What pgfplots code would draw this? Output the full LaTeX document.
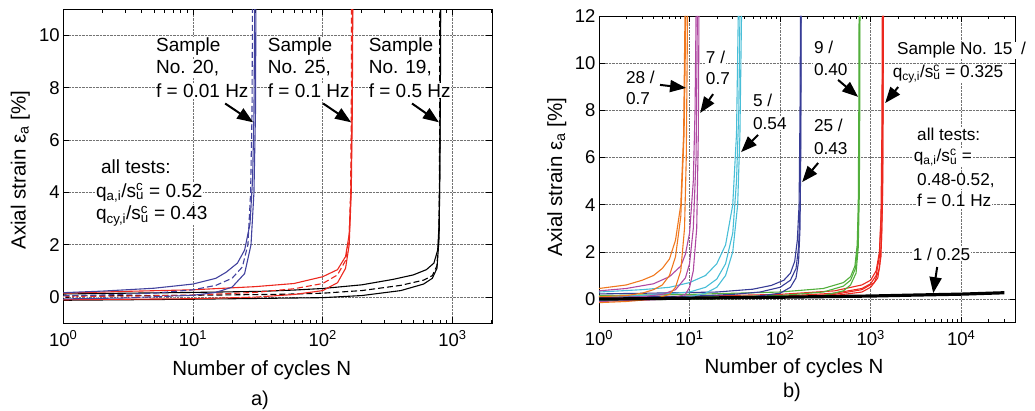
\documentclass[border=0pt]{standalone}
\usepackage{fontspec}
\setmainfont{Liberation Sans}
\usepackage{pgfplots}
\pgfplotsset{compat=1.18}
\usetikzlibrary{arrows.meta}

\definecolor{lblue}{RGB}{66,66,158}
\definecolor{lred}{RGB}{236,40,30}
\definecolor{corange}{RGB}{240,120,30}
\definecolor{cmag}{RGB}{175,72,162}
\definecolor{ccyan}{RGB}{72,190,215}
\definecolor{cblue}{RGB}{55,60,150}
\definecolor{cgreen}{RGB}{82,175,60}

\newcommand{\qa}{q\smash{\textsubscript{a,i}}/s\rlap{\smash{\textsuperscript{c}}}\smash{\textsubscript{u}}}
\newcommand{\qcy}{q\smash{\textsubscript{cy,i}}/s\rlap{\smash{\textsuperscript{c}}}\smash{\textsubscript{u}}}

\pgfplotsset{
  /pgfplots/mypanel/.style={
    scale only axis, ymin=-1,
    grid=major,
    grid style={densely dotted, black!55, line width=0.6pt},
    axis line style={line width=0.8pt},
    every tick/.style={black, line width=0.6pt},
    major tick length=6pt, minor tick length=3.5pt,
    tick label style={font=\fontsize{18.5}{21}\selectfont},
    xticklabel style={yshift=-4pt},
    label style={font=\fontsize{20.5}{24}\selectfont},
    /pgf/number format/assume math mode=true,
    xlabel={Number of cycles N},
    ylabel={Axial strain ε\textsubscript{a} [\%]},
  },
}
\tikzset{
  annL/.style={font=\fontsize{19}{23}\selectfont, fill=white, inner sep=0.8pt, anchor=base west},
  annR/.style={font=\fontsize{17.2}{21}\selectfont, fill=white, inner sep=0.8pt, anchor=base west},
  arr/.style={-{Triangle[length=16pt,width=12pt]}, line width=2pt, black},
}

\begin{document}
\begin{tikzpicture}[x=1pt,y=1pt]
% ---------------- panel a ----------------
\begin{semilogxaxis}[mypanel,
  at={(63.3pt,87.7pt)}, anchor=south west,
  width=429pt, height=314pt,
  xmin=1, xmax=2030, ymax=11,
  xtick={1,10,100,1000},
  xticklabels={10\textsuperscript{0},10\textsuperscript{1},10\textsuperscript{2},10\textsuperscript{3}},
  minor xtick={2,3,4,5,6,7,8,9,20,30,40,50,60,70,80,90,200,300,400,500,600,700,800,900,2000},
  ytick={0,2,4,6,8,10},
  xlabel style={at={(axis description cs:0.4625,-0.1487)}, anchor=center},
  ylabel style={at={(axis description cs:-0.1002,0.488)}, anchor=center},
]
% black (Sample 19)
\addplot[black, line width=1.1pt] coordinates {(1,0.12)(3,0.15)(10,0.18)(33,0.22)(60,0.27)(100,0.33)(200,0.47)(350,0.68)(500,0.85)(630,1.05)(720,1.3)(770,1.8)(790,2.8)(800,5)(806,8)(810,12)};
\addplot[black, line width=1.1pt, dash pattern=on 6pt off 3pt] coordinates {(1,0.04)(10,0.07)(50,0.11)(100,0.15)(200,0.25)(400,0.45)(600,0.65)(700,0.82)(760,1.2)(785,2.3)(795,4.5)(800,12)};
\addplot[black, line width=1.1pt] coordinates {(1,-0.12)(10,-0.08)(100,-0.02)(200,0.06)(400,0.25)(600,0.5)(700,0.72)(760,1.1)(790,2.3)(800,5)(808,8)(812,12)};
% red (Sample 25)
\addplot[lred, line width=1.1pt] coordinates {(1,0.15)(3,0.22)(10,0.28)(30,0.4)(60,0.52)(100,0.78)(130,1.05)(150,1.55)(160,2.4)(165,4)(168,7)(170,12)};
\addplot[lred, line width=1.1pt, dash pattern=on 6pt off 3pt] coordinates {(1,0.02)(5,0.05)(10,0.08)(30,0.18)(60,0.32)(100,0.52)(130,0.85)(150,1.4)(160,2.3)(164,4)(166,7)(167,12)};
\addplot[lred, line width=1.1pt] coordinates {(1,-0.1)(10,-0.06)(30,0.0)(60,0.1)(100,0.25)(130,0.55)(150,1.1)(160,2)(166,4)(169,7)(171,12)};
% blue (Sample 20)
\addplot[lblue, line width=1.1pt] coordinates {(1,0.17)(2,0.23)(5,0.34)(10,0.5)(15,0.72)(18,0.95)(22,1.3)(25,1.8)(27.5,2.8)(28.8,4.5)(29.5,7)(30,12)};
\addplot[lblue, line width=1.1pt, dash pattern=on 6pt off 3pt] coordinates {(1,0.05)(2,0.08)(5,0.15)(10,0.28)(15,0.45)(20,0.72)(24,1.15)(26.5,2)(27.8,4)(28.5,7)(28.8,12)};
\addplot[lblue, line width=1.1pt] coordinates {(1,-0.07)(3,-0.03)(10,0.07)(15,0.18)(20,0.38)(25,0.9)(28,2)(29.5,4)(30.3,7)(30.6,12)};
% white dotted overlay near zero
\addplot[white, line width=1.3pt, dash pattern=on 2pt off 9pt] coordinates {(1,0.0)(35,0.02)};
% annotations
\node[annL] at (axis cs:5.1,9.40) {Sample};
\node[annL] at (axis cs:5.1,8.54) {No. 20,};
\node[annL] at (axis cs:5.1,7.64) {f = 0.01 Hz};
\node[annL] at (axis cs:37.1,9.40) {Sample};
\node[annL] at (axis cs:37.1,8.54) {No. 25,};
\node[annL] at (axis cs:37.1,7.64) {f = 0.1 Hz};
\node[annL] at (axis cs:222.7,9.40) {Sample};
\node[annL] at (axis cs:222.7,8.54) {No. 19,};
\node[annL] at (axis cs:222.7,7.64) {f = 0.5 Hz};
\draw[arr] (axis cs:17.7,7.40) -- (axis cs:29.1,6.68);
\draw[arr] (axis cs:100.7,7.40) -- (axis cs:165.6,6.68);
\draw[arr] (axis cs:488,7.40) -- (axis cs:788,6.68);
\node[annL] at (axis cs:1.92,4.72) {all tests:};
\node[annL] at (axis cs:1.76,3.82) {\qa{} = 0.52};
\node[annL] at (axis cs:1.76,2.97) {\qcy{} = 0.43};
\end{semilogxaxis}
% ---------------- panel b ----------------
\begin{semilogxaxis}[mypanel,
  at={(599pt,88.3pt)}, anchor=south west,
  width=416.7pt, height=306.7pt,
  xmin=1, xmax=40000, ymax=12,
  clip=false,
  xtick={1,10,100,1000,10000},
  xticklabels={10\textsuperscript{0},10\textsuperscript{1},10\textsuperscript{2},10\textsuperscript{3},10\textsuperscript{4}},
  minor xtick={2,3,4,5,6,7,8,9,20,30,40,50,60,70,80,90,200,300,400,500,600,700,800,900,2000,3000,4000,5000,6000,7000,8000,9000,20000,30000},
  ytick={0,2,4,6,8,10,12},
  xlabel style={at={(axis description cs:0.468,-0.1477)}, anchor=center},
  ylabel style={at={(axis description cs:-0.1015,0.475)}, anchor=center},
]
% red (15 / 0.325)
\addplot[lred, line width=1.1pt] coordinates {(1,0.1)(10,0.12)(100,0.2)(400,0.35)(800,0.6)(1000,0.8)(1150,1.2)(1250,2)(1300,3.5)(1330,7)(1345,12)};
\addplot[lred, line width=1.1pt] coordinates {(1,0.05)(10,0.06)(100,0.12)(400,0.25)(800,0.45)(1000,0.65)(1150,1.0)(1250,1.8)(1320,4)(1350,8)(1360,12)};
\addplot[lred, line width=1.1pt] coordinates {(1,0.0)(100,0.08)(400,0.2)(800,0.4)(1100,0.7)(1250,1.3)(1320,2.5)(1360,5)(1372,9)(1378,12)};
\addplot[lred, line width=1.1pt] coordinates {(1,-0.02)(100,0.05)(400,0.15)(800,0.3)(1000,0.5)(1200,0.9)(1300,1.8)(1350,4)(1370,8)(1385,12)};
% green (9 / 0.40)
\addplot[cgreen, line width=1.1pt] coordinates {(1,0.15)(10,0.2)(100,0.3)(300,0.45)(500,0.7)(600,0.95)(670,1.4)(710,2.3)(730,4)(740,8)(745,12)};
\addplot[cgreen, line width=1.1pt] coordinates {(1,0.05)(10,0.08)(100,0.15)(300,0.3)(500,0.55)(600,0.8)(680,1.3)(720,2.3)(740,4.5)(750,8)(755,12)};
\addplot[cgreen, line width=1.1pt] coordinates {(1,-0.05)(10,0.0)(100,0.05)(300,0.15)(500,0.35)(600,0.6)(690,1.1)(730,2.2)(750,4.5)(758,8)(762,12)};
% blue (25 / 0.43)
\addplot[cblue, line width=1.1pt] coordinates {(1,0.22)(5,0.26)(20,0.3)(50,0.42)(80,0.58)(110,0.8)(130,1.1)(145,1.6)(155,2.5)(162,4)(166,8)(168,12)};
\addplot[cblue, line width=1.1pt] coordinates {(1,0.1)(10,0.12)(30,0.2)(60,0.3)(100,0.5)(130,0.8)(150,1.3)(160,2.2)(166,4)(169,8)(170,12)};
\addplot[cblue, line width=1.1pt] coordinates {(1,0.0)(10,0.03)(50,0.1)(100,0.25)(130,0.5)(150,0.9)(160,1.6)(166,3)(169,6)(171,12)};
% cyan (5 / 0.54)
\addplot[ccyan, line width=1.1pt] coordinates {(1,0.3)(3,0.4)(6,0.5)(10,0.7)(15,1.0)(20,1.5)(25,2.3)(30,4)(33,7)(34.5,12)};
\addplot[ccyan, line width=1.1pt] coordinates {(1,0.1)(3,0.15)(10,0.3)(15,0.5)(20,0.85)(25,1.5)(30,2.8)(33,5)(35,8)(36,12)};
\addplot[ccyan, line width=1.1pt] coordinates {(1,-0.05)(5,0.0)(10,0.1)(15,0.25)(20,0.5)(25,1.0)(30,2.0)(34,4)(36,7)(37.5,12)};
% magenta (7 / 0.7)
\addplot[cmag, line width=1.1pt] coordinates {(1,0.35)(2,0.45)(4,0.65)(6,0.95)(8,1.4)(9,1.9)(10,2.8)(11,5)(11.5,8)(11.8,12)};
\addplot[cmag, line width=1.1pt] coordinates {(1,0.05)(3,0.1)(5,0.2)(7,0.4)(9,0.9)(10,1.5)(11,3)(11.8,6)(12.2,12)};
\addplot[cmag, line width=1.1pt] coordinates {(1,-0.1)(3,-0.05)(6,0.0)(9,0.2)(10,0.5)(11,1.2)(12,3)(12.5,7)(12.7,12)};
% orange (28 / 0.7)
\addplot[corange, line width=1.1pt] coordinates {(1,0.45)(2,0.6)(3,0.8)(4,1.0)(5,1.3)(6,1.7)(7,2.5)(8,4)(8.6,7)(8.9,12)};
\addplot[corange, line width=1.1pt] coordinates {(1,0.1)(2,0.15)(3,0.25)(4,0.4)(5,0.6)(6,1.0)(7,1.8)(8,3.5)(8.7,7)(9.1,12)};
\addplot[corange, line width=1.1pt] coordinates {(1,-0.15)(2,-0.1)(4,0.0)(6,0.2)(7,0.5)(8,1.2)(8.8,3)(9.2,6)(9.5,12)};
% black (1 / 0.25)
\addplot[black, line width=3.2pt] coordinates {(1,0.0)(10,0.04)(100,0.08)(1000,0.13)(3000,0.17)(10000,0.21)(30000,0.27)};
% annotations
\node[annR] at (axis cs:1.94,9.15) {28 /};
\node[annR] at (axis cs:1.94,8.23) {0.7};
\node[annR] at (axis cs:14.8,9.99) {7 /};
\node[annR] at (axis cs:14.8,9.08) {0.7};
\node[annR] at (axis cs:49.1,8.16) {5 /};
\node[annR] at (axis cs:49.1,7.21) {0.54};
\node[annR] at (axis cs:231,7.10) {25 /};
\node[annR] at (axis cs:231,6.15) {0.43};
\node[annR] at (axis cs:231,10.42) {9 /};
\node[annR] at (axis cs:231,9.46) {0.40};
\node[annR] at (axis cs:1914,10.35) {Sample No. 15\hspace{8.5pt}/};
\node[annR] at (axis cs:1714,9.40) {\qcy{} = 0.325};
\node[annR] at (axis cs:3184,6.74) {all tests:};
\node[annR] at (axis cs:2925,5.82) {\qa{} =};
\node[annR] at (axis cs:3184,4.81) {0.48-0.52,};
\node[annR] at (axis cs:3184,3.91) {f = 0.1 Hz};
\node[annR] at (axis cs:2851,1.65) {1 / 0.25};
\draw[arr] (axis cs:4.72,9.08) -- (axis cs:9.15,8.95);
\draw[arr] (axis cs:18.2,8.69) -- (axis cs:13.1,7.89);
\draw[arr] (axis cs:57.1,6.96) -- (axis cs:37.1,6.23);
\draw[arr] (axis cs:263,5.77) -- (axis cs:175,4.96);
\draw[arr] (axis cs:437,9.29) -- (axis cs:727,8.57);
\draw[arr] (axis cs:2014,8.99) -- (axis cs:1446,8.31);
\draw[arr] (axis cs:5430,1.36) -- (axis cs:4909,0.25);
\end{semilogxaxis}
\node[font=\fontsize{20}{24}\selectfont] at (260pt,11pt) {a)};
\node[font=\fontsize{20}{24}\selectfont] at (792pt,19pt) {b)};
\pgfresetboundingbox
\path (0pt,0pt) rectangle (1035pt,411pt);
\end{tikzpicture}
\end{document}
